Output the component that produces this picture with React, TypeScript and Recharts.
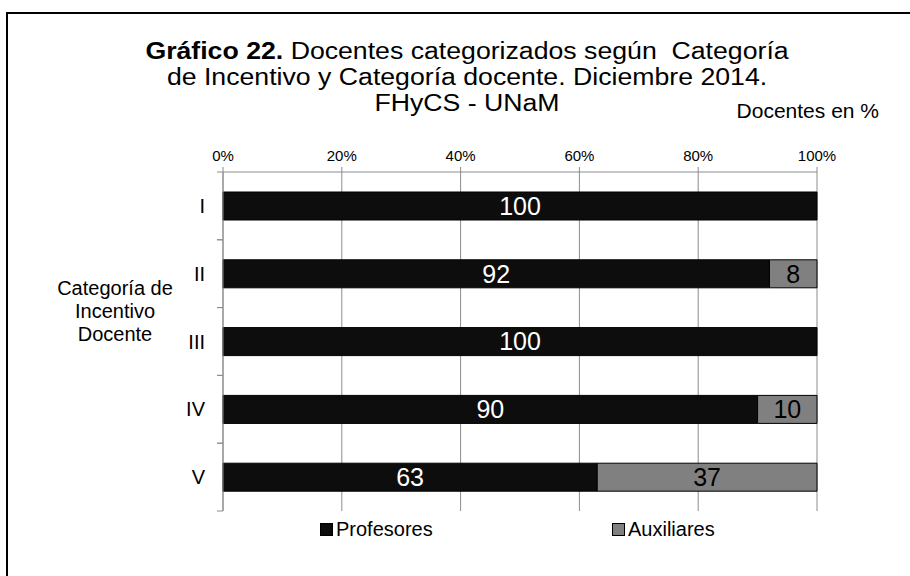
import React from "react";
import { BarChart, Bar, XAxis, YAxis, CartesianGrid, LabelList, Legend } from "recharts";

const categories = ["I", "II", "III", "IV", "V"];
const profesores = [100, 92, 100, 90, 63];
const auxiliares = [null, 8, null, 10, 37];
const xTicks = [0, 20, 40, 60, 80, 100];

const titleLines = [
  "Docentes categorizados según  Categoría",
  "de Incentivo y Categoría docente. Diciembre 2014.",
  "FHyCS - UNaM",
];
const axisTitleLines = ["Categoría de", "Incentivo", "Docente"];

const FONT = "'Liberation Sans', Arial, sans-serif";
const BLACK = "#0d0d0d";
const GRAY = "#808080";
const AXIS = "#8c8c8c";

const data = categories.map((cat, i) => ({
  cat,
  prof: profesores[i],
  aux: auxiliares[i],
}));

function CategoryTick(props: any) {
  const { x, y, payload } = props;
  const half = payload?.offset ?? 33.75;
  const axisX = x + 8;
  return (
    <g>
      <text x={x - 10} y={y} dy={7} textAnchor="end" fontSize={20} fontFamily={FONT} fill="#000">
        {payload.value}
      </text>
      <line x1={axisX - 6} x2={axisX} y1={y - half} y2={y - half} stroke={AXIS} />
      <line x1={axisX - 6} x2={axisX} y1={y + half} y2={y + half} stroke={AXIS} />
    </g>
  );
}

const LEGEND_H = 24;

function LegendBox() {
  const item = (label: string, fill: string, left: number) => (
    <div style={{ position: "absolute", left, top: 0, display: "flex", alignItems: "center" }}>
      <span
        style={{
          display: "inline-block",
          width: 11,
          height: 11,
          background: fill,
          border: "1px solid #000",
          marginRight: 3,
        }}
      />
      <span style={{ fontSize: 20, fontFamily: FONT, color: "#000", lineHeight: `${LEGEND_H}px` }}>{label}</span>
    </div>
  );
  return (
    <div style={{ position: "relative", width: 910, height: LEGEND_H }}>
      {item("Profesores", BLACK, 320)}
      {item("Auxiliares", GRAY, 612)}
    </div>
  );
}

const hideEmpty = (v: any) => (v ? String(v) : "");

// the title in the reference is a little wider than its height suggests
function TitleLine({ y, children }: { y: number; children: React.ReactNode }) {
  return (
    <text
      transform={`translate(467,${y}) scale(1.16,1)`}
      textAnchor="middle"
      fontSize={23}
      fontFamily={FONT}
      fill="#000"
      style={{ whiteSpace: "pre" }}
    >
      {children}
    </text>
  );
}

export default function App() {
  return (
    <div style={{ position: "absolute", left: 0, top: 0, width: 910, height: 576, overflow: "hidden", background: "#fff" }}>
      <BarChart
        width={910}
        height={576}
        data={data}
        layout="vertical"
        margin={{ top: 142, right: 93, bottom: 65 - LEGEND_H, left: 183 }}
        barCategoryGap={0}
      >
        <CartesianGrid horizontal={false} stroke={AXIS} />
        <XAxis
          type="number"
          orientation="top"
          domain={[0, 100]}
          ticks={xTicks}
          tickFormatter={(v) => `${v}%`}
          axisLine={{ stroke: AXIS }}
          tickLine={{ stroke: AXIS }}
          tickSize={5}
          tickMargin={6}
          height={30}
          tick={{ fontSize: 15, fontFamily: FONT, fill: "#000" }}
          interval={0}
        />
        <YAxis
          type="category"
          dataKey="cat"
          width={40}
          axisLine={{ stroke: AXIS }}
          tickLine={false}
          tickSize={6}
          tickMargin={2}
          tick={<CategoryTick />}
          interval={0}
        />
        <Legend
          verticalAlign="bottom"
          content={() => <LegendBox />}
          wrapperStyle={{ position: "absolute", left: 0, top: 517, width: 910 }}
        />
        <Bar dataKey="prof" name="Profesores" stackId="a" fill={BLACK} stroke="#000" barSize={28} isAnimationActive={false}>
          <LabelList dataKey="prof" position="center" fill="#fff" fontSize={25} fontFamily={FONT} formatter={hideEmpty} />
        </Bar>
        <Bar dataKey="aux" name="Auxiliares" stackId="a" fill={GRAY} stroke="#000" barSize={28} isAnimationActive={false}>
          <LabelList dataKey="aux" position="center" fill="#000" fontSize={25} fontFamily={FONT} formatter={hideEmpty} />
        </Bar>
      </BarChart>
      <svg width={910} height={576} style={{ position: "absolute", left: 0, top: 0, pointerEvents: "none" }}>
        <line x1={7} y1={13} x2={910} y2={13} stroke="#000" strokeWidth={2} />
        <line x1={7} y1={12} x2={7} y2={576} stroke="#000" strokeWidth={2} />
        <TitleLine y={59}>
          <tspan fontWeight="bold">Gráfico 22.</tspan> {titleLines[0]}
        </TitleLine>
        <TitleLine y={85}>{titleLines[1]}</TitleLine>
        <TitleLine y={111}>{titleLines[2]}</TitleLine>
        <text x={879} y={118} textAnchor="end" fontSize={21} fontFamily={FONT} fill="#000">
          Docentes en %
        </text>
        {axisTitleLines.map((t, i) => (
          <text key={t} x={115} y={295 + i * 23} textAnchor="middle" fontSize={20} fontFamily={FONT} fill="#000">
            {t}
          </text>
        ))}
      </svg>
    </div>
  );
}
